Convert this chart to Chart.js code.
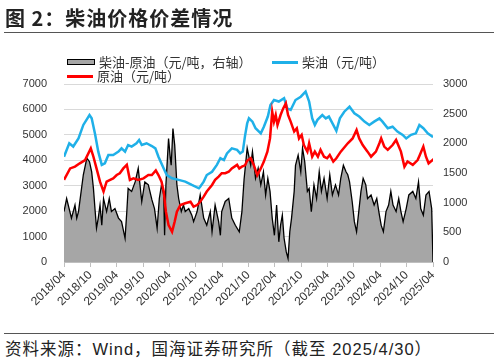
<!DOCTYPE html>
<html lang="zh">
<head>
<meta charset="UTF-8">
<title>柴油价格价差情况</title>
<style>
    body {
        margin: 0;
        width: 498px;
        height: 362px;
        background: #fff;
        font-family: "Liberation Sans", "Noto Sans CJK SC", sans-serif;
        position: relative;
        overflow: hidden;
    }
    .title {
        position: absolute;
        left: 5px;
        top: 3px;
        font-size: 20px;
        font-weight: bold;
        letter-spacing: 1px;
        color: #222;
        font-family: "Noto Sans CJK SC", sans-serif;
    }
    .title-rule, .foot-rule {
        position: absolute;
        left: 4px;
        width: 490px;
        height: 1px;
        background: #555;
    }
    .title-rule { top: 32px; }
    .foot-rule { top: 333px; }
    .foot {
        position: absolute;
        left: 5px;
        top: 336px;
        font-size: 16.5px;
        letter-spacing: 1px;
        color: #222;
    }
    .chart-wrap {
        position: absolute;
        left: 0;
        top: 0;
        width: 498px;
        height: 320px;
    }
    .legend-item {
        position: absolute;
        font-family: "Noto Sans CJK SC", sans-serif;
        font-size: 13px;
        color: #333;
        display: flex;
        align-items: center;
        line-height: 14px;
    }
    .legend-item .swatch {
        display: inline-block;
        width: 26px;
        margin-right: 4px;
    }
</style>
<script src="https://cdn.jsdelivr.net/npm/chart.js"></script>
</head>
<body>
<div class="chart-wrap"><canvas id="chart" width="498" height="320"></canvas></div>
<div class="title">图 2：柴油价格价差情况</div>
<div class="title-rule"></div>

<div class="legend-item" style="left:67px; top:55px;">
    <span class="swatch" style="height:4px; background:#a6a6a6; border:1px solid #000;"></span>柴油-原油（元/吨，右轴）
</div>
<div class="legend-item" style="left:272px; top:55px;">
    <span class="swatch" style="height:3px; background:#1fb0e8;"></span>柴油（元/吨）
</div>
<div class="legend-item" style="left:67px; top:69px;">
    <span class="swatch" style="height:3px; background:#ff0000;"></span>原油（元/吨）
</div>

<div class="foot-rule"></div>
<div class="foot">资料来源：Wind，国海证券研究所（截至 2025/4/30）</div>

<script>
// x = months since 2018/04
const startYear = 2018;
const startMonth = 4;
const monthsShown = 84;

// 柴油（元/吨）
const diesel = [
    [0,4140],[1.2,4670],[2.1,4540],[3.3,4860],[4.4,5390],[5.8,5780],[6.3,5650],[7.1,5000],
    [7.8,4340],[8.6,3820],[9.3,3880],[10.1,4210],[11.2,4210],[12.4,4340],[13.1,4470],[13.9,4340],
    [14.6,4600],[15.4,4540],[16.5,4670],[17.1,4800],[17.7,4600],[18.8,4670],[20,4560],[20.8,4470],
    [21.5,4140],[22.7,3680],[23.4,3420],[24.6,3290],[26.1,3230],[27.6,3160],[29.1,3030],[30.7,2900],
    [31,2960],[31.8,3160],[32.5,3420],[33.7,3550],[34.8,3820],[35.6,4080],[36.4,4010],[37.1,4270],
    [38.2,4470],[39.4,4410],[40.1,4270],[40.7,4340],[41.2,4950],[41.7,5450],[42.1,5650],[42.9,5520],
    [43.6,5260],[44.8,5060],[45.5,5320],[46.4,5720],[47,6170],[47.8,6370],[48.9,6310],[50.1,6440],
    [50.8,6040],[51.6,5980],[52.7,6370],[53.9,6500],[55,6700],[55.8,6310],[56.5,5650],[57.1,5390],
    [57.7,5590],[58.8,5780],[59.6,5650],[60.3,5720],[61.3,5390],[62,5160],[62.8,5650],[63.8,5910],
    [65,6110],[65.3,6040],[66.1,5850],[67.2,5720],[68.4,5520],[69.5,5390],[70.6,5520],[71.8,5650],
    [72.5,5520],[73.7,5260],[74.8,5320],[75.9,5130],[77.1,5000],[77.9,4860],[79,5000],[80.1,5060],
    [80.9,5390],[81.8,5260],[82.8,5060],[83.9,4930],[84,4900]
];

// 原油（元/吨）
const crude = [
    [0,3230],[1.4,3680],[2.5,3750],[3.6,3880],[4.8,4010],[6.1,4470],[6.7,4140],[7.4,3680],
    [8.2,3160],[9,2770],[9.7,3160],[10.5,3230],[11.2,3290],[12,3420],[12.7,3490],[13.5,3680],
    [14.3,3820],[15,3230],[15.8,3290],[16.9,3230],[18.1,3290],[19.2,3420],[20,3420],[20.9,3600],
    [21.5,3420],[22.2,3160],[22.7,2770],[23.2,1980],[23.8,1450],[24.6,1190],[25.2,1590],[25.7,1980],
    [26.5,2240],[27.6,2310],[28.8,2370],[29.5,2180],[30.3,2240],[31,2370],[31.8,2570],[32.5,2770],
    [33.7,3030],[34.4,3230],[35.2,3360],[35.9,3490],[36.7,3490],[37.5,3550],[38.2,3680],[39.4,3820],
    [39.9,3680],[40.5,3750],[41.2,3800],[41.7,3980],[42.5,4080],[43.2,3820],[44,3420],[44.8,3680],
    [45.5,3950],[46.3,4340],[46.9,4860],[47.4,5910],[47.8,5520],[48.2,5780],[48.6,5390],[49.3,5780],
    [49.9,6040],[50.5,6240],[51,5780],[51.6,5520],[52.4,5130],[53,5260],[53.5,4860],[54.1,5000],
    [54.6,4600],[55.4,4340],[55.8,4670],[56.5,4140],[57.1,4340],[57.8,4140],[58.4,4410],[59.2,4140],
    [59.9,4080],[60.5,4210],[61.3,3950],[62,4080],[63,4340],[64.6,4670],[65.7,4860],[66.6,5190],
    [67.2,4860],[68,4600],[69.1,4340],[69.9,4140],[71,4340],[71.8,4670],[72.2,4860],[72.9,4540],
    [73.7,4410],[74.8,4600],[75.6,4800],[76.7,4340],[77.5,3750],[78.2,3950],[79.4,3820],[80.5,4010],
    [81,4210],[81.8,4540],[82.4,4140],[83,3880],[83.9,4010],[84,3950]
];

// 柴油-原油（元/吨，右轴）
const spread = [
    [0,850],[0.6,1070],[1.7,740],[2.5,960],[2.9,740],[3.3,850],[3.8,1130],[4.4,1470],
    [5.2,1750],[5.8,1690],[6.3,1520],[6.7,1240],[7.1,850],[7.4,570],[7.8,740],[8.2,960],
    [8.6,620],[9,1070],[9.7,850],[10.3,1070],[10.8,850],[11.6,900],[12.4,740],[13.1,680],
    [13.9,400],[14.3,850],[14.6,1240],[15.4,1190],[16.2,1350],[16.9,1580],[17.7,1020],[18.4,1350],
    [19.2,1300],[20,1050],[20.6,900],[21.2,570],[21.7,1070],[22.2,1300],[22.7,1130],[22.9,450],
    [23.2,1300],[23.8,2080],[24.2,1750],[24.4,1630],[24.8,2250],[25.2,1970],[25.7,1300],[26.1,1070],
    [26.7,850],[27.2,960],[27.6,850],[28.4,900],[29.1,790],[29.5,680],[30.3,850],[31,1130],
    [31.8,740],[32.5,620],[33.3,850],[33.7,510],[34.4,960],[35.2,680],[35.6,450],[35.9,850],
    [36.7,1020],[37.5,1070],[38.2,740],[39,620],[39.9,510],[40.5,850],[41,1400],[41.7,1920],
    [42.5,1630],[42.9,1860],[43.6,1410],[44.2,1580],[44.8,1300],[45.4,1520],[45.9,1130],[46.4,1410],
    [46.9,1190],[47.4,740],[47.9,450],[48.4,960],[48.9,340],[49.3,620],[49.7,790],[50.1,400],
    [50.6,170],[51,60],[51.4,510],[51.8,740],[52.4,1190],[52.7,1630],[53.3,1800],[53.9,1520],
    [54.3,1920],[54.8,1690],[55.4,1190],[55.8,1240],[56.3,850],[56.9,1300],[57.5,1070],[58.1,1520],
    [58.6,1190],[59.2,1410],[59.9,1070],[60.5,1470],[61.1,1130],[61.8,1300],[62.5,1130],[63,1410],
    [63.6,1630],[64.2,1520],[64.6,1470],[65,1350],[65.6,1020],[66.1,680],[66.6,510],[67.1,850],
    [67.6,1190],[68.1,1410],[68.7,1300],[69.1,1070],[69.9,1130],[70.6,960],[71.2,1070],[71.8,790],
    [72.2,620],[72.7,510],[73.3,850],[73.9,960],[74.4,1190],[74.9,960],[75.6,850],[76.2,1070],
    [76.7,850],[77.2,680],[77.9,900],[78.5,1130],[79.4,1190],[80.1,1070],[80.7,1350],[81.2,900],
    [81.8,790],[82.4,1130],[83.1,1190],[83.7,900],[84,0]
];

const leftTicks = { min: 0, max: 7000, step: 1000 };
const rightTicks = { min: 0, max: 3000, step: 500 };

function toPoints(arr) {
    return arr.map(p => ({ x: p[0], y: p[1] }));
}

function monthLabel(m) {
    const total = startMonth - 1 + Math.round(m);
    const y = startYear + Math.floor(total / 12);
    const mo = (total % 12) + 1;
    return y + '/' + String(mo).padStart(2, '0');
}

const tickFont = { family: '"Liberation Sans", Arial, sans-serif', size: 11 };
const plain = v => String(v);

new Chart(document.getElementById('chart'), {
    type: 'line',
    data: {
        datasets: [
            {
                label: '原油（元/吨）',
                data: toPoints(crude),
                borderColor: '#ff0000',
                borderWidth: 2.5,
                pointRadius: 0,
                fill: false,
                yAxisID: 'y',
                order: 1
            },
            {
                label: '柴油（元/吨）',
                data: toPoints(diesel),
                borderColor: '#1fb0e8',
                borderWidth: 2.5,
                pointRadius: 0,
                fill: false,
                yAxisID: 'y',
                order: 2
            },
            {
                label: '柴油-原油（元/吨，右轴）',
                data: toPoints(spread),
                borderColor: '#000000',
                backgroundColor: '#a6a6a6',
                borderWidth: 1.3,
                pointRadius: 0,
                fill: 'origin',
                yAxisID: 'y1',
                order: 3
            }
        ]
    },
    options: {
        responsive: false,
        animation: false,
        layout: { padding: { top: 84, bottom: 0, left: 0, right: 0 } },
        plugins: {
            legend: { display: false },
            tooltip: { enabled: false }
        },
        scales: {
            x: {
                type: 'linear',
                min: 0,
                max: monthsShown,
                afterFit: s => { s.height = 58; },
                grid: {
                    drawOnChartArea: false,
                    drawTicks: true,
                    tickLength: 5,
                    color: '#bfbfbf'
                },
                border: { display: true, color: '#bfbfbf' },
                ticks: {
                    stepSize: 6,
                    autoSkip: false,
                    maxRotation: 45,
                    minRotation: 45,
                    padding: 1,
                    color: '#333',
                    font: { family: tickFont.family, size: 12 },
                    callback: v => monthLabel(v)
                }
            },
            y: {
                position: 'left',
                min: leftTicks.min,
                max: leftTicks.max,
                afterFit: s => { s.width = 64; },
                grid: { color: '#d9d9d9', drawTicks: false },
                border: { display: false },
                ticks: { stepSize: leftTicks.step, padding: 17, color: '#333', font: tickFont, callback: plain }
            },
            y1: {
                position: 'right',
                min: rightTicks.min,
                max: rightTicks.max,
                afterFit: s => { s.width = 65; },
                grid: { drawOnChartArea: false, drawTicks: false },
                border: { display: false },
                ticks: { stepSize: rightTicks.step, padding: 10, color: '#333', font: tickFont, callback: plain }
            }
        }
    }
});
</script>
</body>
</html>
